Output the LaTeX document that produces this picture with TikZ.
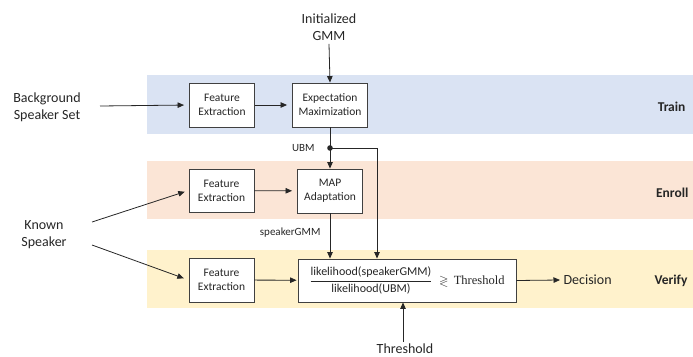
\documentclass[tikz,border=0pt]{standalone}
\usepackage{amsmath,amssymb}
\usepackage{fontspec}
\setmainfont{Carlito}
\newfontfamily\thrserif{Liberation Serif}
\usepackage{tikz}
\usetikzlibrary{positioning,calc,arrows.meta}
\definecolor{trainbg}{HTML}{DAE3F3}
\definecolor{enrollbg}{HTML}{FBE5D6}
\definecolor{verifybg}{HTML}{FFF2CC}
\definecolor{edge}{HTML}{404040}
\definecolor{ink}{HTML}{262626}

\begin{document}
\begin{tikzpicture}[
  x=1pt, y=-1pt, text=ink,
  blk/.style={draw=edge, fill=white, line width=0.9pt, align=center, inner sep=1pt,
              font=\fontsize{11.5}{14}\selectfont},
  lbl/.style={align=center, font=\fontsize{14}{17}\selectfont},
  sml/.style={font=\fontsize{11}{13}\selectfont},
  phase/.style={anchor=east, font=\fontsize{13.5}{16}\selectfont\bfseries},
  fl/.style={-{Triangle[length=6.5pt,width=5.5pt]}, line width=0.8pt, draw=ink},
]
  \useasboundingbox (0,0) rectangle (693,356);

  %=================== phase bands ===================
  \fill[trainbg]  (147,75)  rectangle (693,134);
  \fill[enrollbg] (147,161) rectangle (693,219);
  \fill[verifybg] (147,250) rectangle (693,308);
  \node[phase] (train)  at (689,107) {Train};
  \node[phase] (enroll) at (692,193) {Enroll};
  \node[phase] (verify) at (691,281) {Verify};

  %=================== train row ===================
  \node[lbl] (init) at (329,27) {Initialized\\GMM};
  \node[lbl] (bg) at (47,107) {Background\\Speaker Set};
  \node[blk, minimum width=65pt, minimum height=44pt] (fetrain) at (222,105) {Feature\\Extraction};
  \node[blk, minimum width=75pt, minimum height=44pt] (em) at (330,105) {Expectation\\Maximization};
  \coordinate (bgout) at (100,106);
  \draw[fl, shorten >=5pt] (bgout) -- (fetrain.west);
  \draw[fl, shorten >=5pt] (fetrain) -- (em);
  \draw[fl] (init.south) -- (em.north);

  %=================== enroll row ===================
  \node[lbl] (known) at (44,235) {Known\\Speaker};
  \node[blk, minimum width=65pt, minimum height=43pt] (feenroll) at (221.5,190.5) {Feature\\Extraction};
  \node[blk, minimum width=65pt, minimum height=44pt] (map) at (330,191) {MAP\\Adaptation};
  \coordinate (ksA) at (92,222);
  \coordinate (ksB) at (92,245);
  \draw[fl, shorten >=4pt] (ksA) -- (feenroll.west);
  \draw[fl, shorten >=5pt] (feenroll) -- (map);

  % UBM branch
  \coordinate (ubm) at (330,148);
  \fill[ink] (ubm) circle (2.8pt);
  \node[sml, anchor=east] (ubmlbl) at (318,148) {UBM};
  \draw[fl] (em.south) -- (map.north);

  %=================== verify row ===================
  \node[blk, minimum width=65pt, minimum height=44pt] (feverify) at (221.5,280) {Feature\\Extraction};
  \node[blk, minimum width=218pt, minimum height=43pt, font=\fontsize{12}{14}\selectfont] (ratio) at (407,280.5)
    {$\dfrac{\text{likelihood(speakerGMM)}}{\text{likelihood(UBM)}}\;\gtrless\;$\,{\thrserif\fontsize{12.5}{14}\selectfont Threshold}};
  \draw[fl, shorten >=5pt] (ksB) -- (feverify.west);
  \draw[fl, shorten >=1pt] (feverify) -- (ratio);
  \draw[fl] (ubm) -| ($(ratio.north)+(-30,0)$);
  \draw[fl] (map.south) -- (map.south |- ratio.north);
  \node[sml, anchor=east] (sgmm) at (324,233) {speakerGMM};

  \node[lbl, anchor=west] (dec) at (560,280) {Decision};
  \draw[fl] (ratio.east) -- (dec.west);

  \node[lbl] (thr) at (405,348.5) {Threshold};
  \draw[fl] ([yshift=-2pt]thr.north -| 403,0) -- (403,0 |- ratio.south);
\end{tikzpicture}
\end{document}
